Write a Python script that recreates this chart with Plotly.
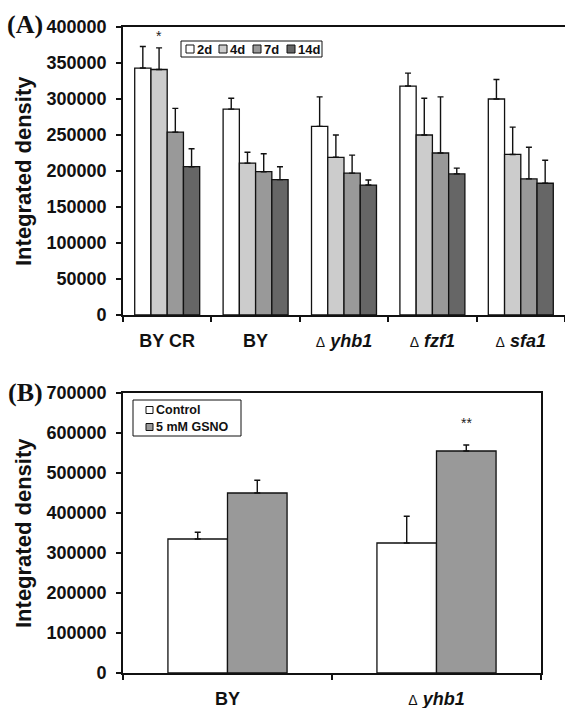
import plotly.graph_objects as go

W, H = 565, 708

# ---------------- Data ----------------
# Panel A
strains_a = ["BYCR", "BY", "yhb1", "fzf1", "sfa1"]
strain_labels_a = [
    "BY CR",
    "BY",
    "<span style='font-weight:normal;font-size:14px'>Δ</span> <i>yhb1</i>",
    "<span style='font-weight:normal;font-size:14px'>Δ</span> <i>fzf1</i>",
    "<span style='font-weight:normal;font-size:14px'>Δ</span> <i>sfa1</i>",
]
days = ["2d", "4d", "7d", "14d"]
vals_2d = [343000, 286000, 262000, 318000, 300000]
vals_4d = [341000, 211000, 219000, 250000, 223000]
vals_7d = [254000, 199000, 197000, 225000, 189000]
vals_14d = [206000, 188000, 180500, 196000, 183000]
err_2d = [30000, 15000, 41000, 18000, 27000]
err_4d = [30000, 15000, 31000, 51000, 38000]
err_7d = [33000, 25000, 25000, 78000, 44000]
err_14d = [25000, 18000, 7000, 8000, 32000]
ticks_a = [0, 50000, 100000, 150000, 200000, 250000, 300000, 350000, 400000]

# Panel B
strains_b = ["BY", "yhb1"]
strain_labels_b = [
    "BY",
    "<span style='font-weight:normal;font-size:14px'>Δ</span> <i>yhb1</i>",
]
treatments = ["Control", "5 mM GSNO"]
vals_control = [335000, 325000]
vals_gsno = [450000, 555000]
err_control = [17000, 67000]
err_gsno = [32000, 15000]
ticks_b = [0, 100000, 200000, 300000, 400000, 500000, 600000, 700000]

y_title = "Integrated density"

# ---------------- Styles ----------------
colors_a = ["#ffffff", "#cccccc", "#999999", "#666666"]
colors_b = ["#ffffff", "#999999"]
FONT = "Liberation Sans"
SERIF = "Liberation Serif"
BARGAP_A = 0.265
BARGAP_B = 0.43


def px_x(x):
    return x / W


def px_y(y):
    return 1 - y / H


fig = go.Figure()

vals_a = [vals_2d, vals_4d, vals_7d, vals_14d]
errs_a = [err_2d, err_4d, err_7d, err_14d]
for d, v, e, c in zip(days, vals_a, errs_a, colors_a):
    fig.add_trace(go.Bar(
        x=strains_a, y=v, name=d, marker=dict(color=c, line=dict(color="#111", width=1.3)),
        error_y=dict(type="data", array=e, arrayminus=[0] * len(e), symmetric=False,
                     color="#111", thickness=1.4, width=3),
        xaxis="x", yaxis="y", showlegend=False,
    ))

vals_b = [vals_control, vals_gsno]
errs_b = [err_control, err_gsno]
wb = (1 - BARGAP_B) / 2
for i, (t, v, e, c) in enumerate(zip(treatments, vals_b, errs_b, colors_b)):
    fig.add_trace(go.Bar(
        x=strains_b, y=v, name=t, marker=dict(color=c, line=dict(color="#111", width=1.3)),
        error_y=dict(type="data", array=e, arrayminus=[0] * len(e), symmetric=False,
                     color="#111", thickness=1.4, width=3),
        width=wb, offset=-wb + i * wb,
        xaxis="x2", yaxis="y2", showlegend=False,
    ))

axis_common = dict(showline=True, linecolor="#111", linewidth=1.8, ticks="outside",
                   ticklen=5, tickwidth=1.5, tickcolor="#111", showgrid=False, zeroline=False,
                   automargin=False)
tickfont = dict(family=FONT, size=18, weight="bold", color="#111")
titlefont = dict(family=FONT, size=22, weight="bold", color="#111")

fig.update_layout(
    template="none",
    width=W, height=H,
    margin=dict(l=0, r=0, t=0, b=0, pad=0),
    paper_bgcolor="white", plot_bgcolor="white",
    barmode="group", bargap=BARGAP_A,
    font=dict(family=FONT, color="#111"),
    xaxis=dict(domain=[px_x(123), 1.0], anchor="y", type="category",
               tickvals=strains_a, ticktext=strain_labels_a, tickson="boundaries",
               tickfont=tickfont, ticklabelstandoff=8, mirror=True, **axis_common),
    yaxis=dict(domain=[px_y(315), px_y(27)], anchor="x", range=[0, 400000],
               tickvals=ticks_a, ticktext=[str(t) for t in ticks_a],
               tickfont=tickfont, ticklabelstandoff=6, **axis_common),
    xaxis2=dict(domain=[px_x(123), px_x(541)], anchor="y2", type="category",
                tickvals=strains_b, ticktext=strain_labels_b, tickson="boundaries",
                tickfont=tickfont, ticklabelstandoff=8, mirror=True, **axis_common),
    yaxis2=dict(domain=[px_y(673), px_y(393)], anchor="x2", range=[0, 700000],
                tickvals=ticks_b, ticktext=[str(t) for t in ticks_b],
                tickfont=tickfont, ticklabelstandoff=6, mirror=True, **axis_common),
)

annotations = []
# y-axis titles (placed in the gap left of the tick labels)
for yc in (171, 533):
    annotations.append(dict(text="<b>" + y_title + "</b>", x=px_x(23), y=px_y(yc), xref="paper", yref="paper",
                            xanchor="center", yanchor="middle", textangle=-90, showarrow=False,
                            font=titlefont))
# panel labels
annotations.append(dict(text="<b>(A)</b>", x=px_x(25), y=px_y(24), xref="paper", yref="paper",
                        xanchor="center", yanchor="middle",
                        showarrow=False, font=dict(family=SERIF, size=26, color="#111")))
annotations.append(dict(text="<b>(B)</b>", x=px_x(25), y=px_y(392), xref="paper", yref="paper",
                        xanchor="center", yanchor="middle",
                        showarrow=False, font=dict(family=SERIF, size=26, color="#111")))

# significance marks
wa = (1 - BARGAP_A) / 4
annotations.append(dict(text="*", x=0 - 0.5 * wa, y=vals_4d[0] + err_4d[0], xref="x", yref="y",
                        yanchor="bottom", yshift=2, showarrow=False,
                        font=dict(family=FONT, size=14, color="#222")))
annotations.append(dict(text="**", x=1 + 0.5 * wb, y=vals_gsno[1] + err_gsno[1], xref="x2", yref="y2",
                        yanchor="bottom", yshift=12, showarrow=False,
                        font=dict(family=FONT, size=14, color="#222")))

shapes = []
# legend A
shapes.append(dict(type="rect", xref="paper", yref="paper", x0=px_x(181), x1=px_x(322),
                   y0=px_y(57), y1=px_y(41), line=dict(color="#111", width=1), fillcolor="white"))
leg_a_x = [186, 219, 253, 287]
for d, c, lx in zip(days, colors_a, leg_a_x):
    shapes.append(dict(type="rect", xref="paper", yref="paper", x0=px_x(lx), x1=px_x(lx + 8),
                       y0=px_y(53), y1=px_y(45), line=dict(color="#111", width=1), fillcolor=c))
    annotations.append(dict(text="<b>" + d + "</b>", x=px_x(lx + 9), y=px_y(49), xref="paper", yref="paper",
                            xanchor="left", yanchor="middle", showarrow=False,
                            font=dict(family=FONT, size=13, color="#111")))
# legend B
shapes.append(dict(type="rect", xref="paper", yref="paper", x0=px_x(133), x1=px_x(241),
                   y0=px_y(436), y1=px_y(400), line=dict(color="#111", width=1), fillcolor="white"))
leg_b_y = [410, 427]
for t, c, ly in zip(treatments, colors_b, leg_b_y):
    shapes.append(dict(type="rect", xref="paper", yref="paper", x0=px_x(146), x1=px_x(153),
                       y0=px_y(ly + 3.5), y1=px_y(ly - 3.5), line=dict(color="#111", width=1), fillcolor=c))
    annotations.append(dict(text="<b>" + t + "</b>", x=px_x(154), y=px_y(ly), xref="paper", yref="paper",
                            xanchor="left", yanchor="middle", showarrow=False,
                            font=dict(family=FONT, size=12.5, color="#111")))

fig.update_layout(annotations=annotations, shapes=shapes)
fig.write_html("out.html")
